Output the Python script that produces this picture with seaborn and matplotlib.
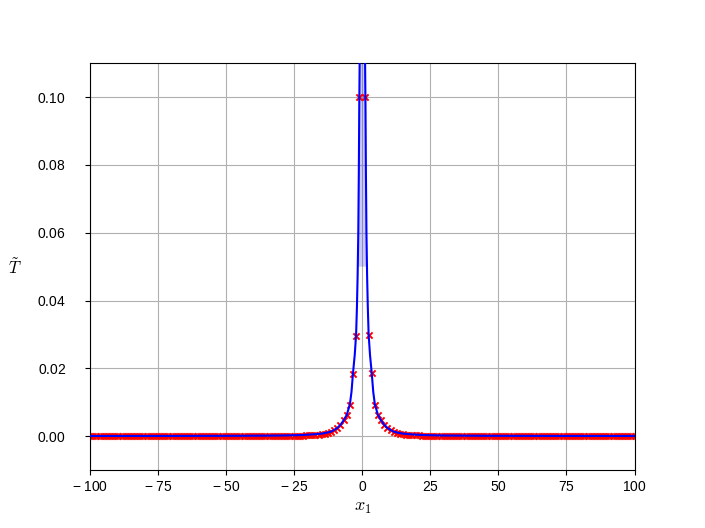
import numpy as np
import pandas as pd
import seaborn as sns
import matplotlib.pyplot as plt
from matplotlib.ticker import FuncFormatter, MultipleLocator

# sampling grid of the estimate (odd count, so x = 0 is in the middle)
n_samples = 175
x_samples = np.linspace(-100, 100, n_samples)

# estimate around the peak (20 samples each side of x = 0), centre is off the axes
t_centre = [0.0001, 0.0001, 0.0001, 0.0002, 0.0002, 0.0003, 0.0003, 0.0004, 0.0005, 0.0007,
            0.0009, 0.0012, 0.0017, 0.0024, 0.0033, 0.0046, 0.0061, 0.0091, 0.0184, 0.0296,
            0.100,
            np.nan,
            0.100,
            0.0298, 0.0186, 0.0092, 0.0062, 0.0046, 0.0033, 0.0024, 0.0017, 0.0012, 0.0009,
            0.0007, 0.0005, 0.0004, 0.0003, 0.0003, 0.0002, 0.0002, 0.0001, 0.0001, 0.0001]
t_tail = [0.0] * ((n_samples - len(t_centre)) // 2)
t_samples = t_tail + t_centre + t_tail

# reference curve (right half, mirrored for the left)
line_x_right = [0.0, 0.5, 0.8, 1.0, 1.15, 1.3, 1.5, 1.75, 2.0, 2.3, 2.8, 3.45, 4.0, 4.6,
                5.75, 6.9, 8.05, 9.2, 10.35, 11.5, 13.0, 15.0, 18.0, 22.0, 30.0, 45.0, 70.0, 100.0]
line_y_right = [0.60, 0.35, 0.16, 0.11, 0.097, 0.078, 0.060, 0.047, 0.038, 0.030, 0.024, 0.0185,
                0.013, 0.0093, 0.0062, 0.0046, 0.0033, 0.0024, 0.0018, 0.0013, 0.0010, 0.0007,
                0.0005, 0.0003, 0.00015, 0.00007, 0.00003, 0.00002]
line_x = [-v for v in line_x_right[::-1]] + line_x_right[1:]
line_y = line_y_right[::-1] + line_y_right[1:]

fill_floor = 0.05

samples = pd.DataFrame({'x': x_samples, 'T': t_samples})
curve = pd.DataFrame({'x': line_x, 'T': line_y})

# tick labels as mathtext in an Arial-like face, axis labels in computer modern
plt.rcParams['font.family'] = ['Liberation Sans', 'DejaVu Sans']
plt.rcParams['mathtext.fontset'] = 'custom'
plt.rcParams['mathtext.rm'] = 'Liberation Sans'
plt.rcParams['mathtext.it'] = 'Liberation Sans:italic'


def x_label(v, pos):
    if v < 0:
        return r'$-\;%g$' % abs(v)
    return r'$%g$' % v


fig, ax = plt.subplots(figsize=(7.05, 5.28), dpi=100)
fig.subplots_adjust(left=0.128)

ax.fill_between(curve['x'], curve['T'], np.minimum(curve['T'], fill_floor),
                color='blue', alpha=0.2, lw=0)
sns.scatterplot(data=samples, x='x', y='T', marker='x', color='red', s=20,
                linewidth=1.4, ax=ax, zorder=2)
sns.lineplot(data=curve, x='x', y='T', color='blue', lw=1.5, ax=ax, zorder=3)

ax.set_xlim(-100, 100)
ax.set_ylim(-0.01, 0.11)
ax.xaxis.set_major_locator(MultipleLocator(25))
ax.yaxis.set_major_locator(MultipleLocator(0.02))
ax.xaxis.set_major_formatter(FuncFormatter(x_label))
ax.yaxis.set_major_formatter(FuncFormatter(lambda v, p: f'${v:.2f}$'))
ax.tick_params(axis='y', pad=14)
ax.grid(True, color='#b0b0b0', lw=0.8)
ax.set_axisbelow(True)

ax.set_xlabel(r'$x_1$', fontsize=13)
ax.set_ylabel(r'$\tilde{T}$', rotation=0, fontsize=12, labelpad=16, va='center')
ax.xaxis.label.set_math_fontfamily('cm')
ax.yaxis.label.set_math_fontfamily('cm')

fig.savefig('out.png', dpi=100)
